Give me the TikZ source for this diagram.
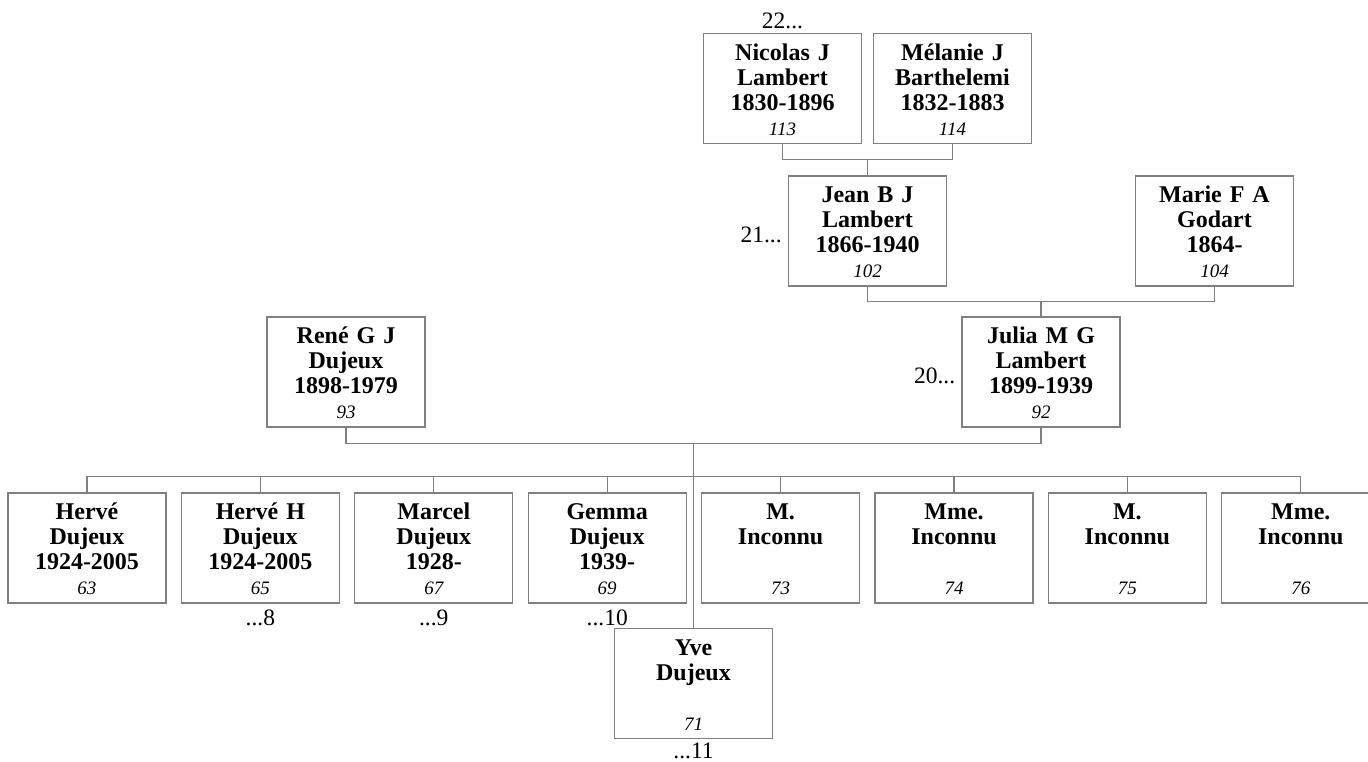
\documentclass[tikz,border=0pt]{standalone}
\usepackage{fontspec}
\setmainfont{Liberation Serif}
\usetikzlibrary{calc}
\definecolor{boxgray}{RGB}{128,128,128}
\newcommand{\pers}[4]{\rule{0pt}{25.5pt}#1\\\strut #2\\\strut #3\\{\fontsize{19}{25}\selectfont\itshape\mdseries\strut #4}}
\tikzset{
  pbox/.style={draw=boxgray, line width=1.2pt, minimum width=158pt, minimum height=110pt,
    inner sep=0pt, align=center, text width=156pt, font=\fontsize{24}{25}\selectfont\bfseries},
  conn/.style={draw=boxgray, line width=1.1pt},
  gen/.style={font=\fontsize{23.5}{25}\selectfont, inner sep=0pt},
}
\begin{document}
\begin{tikzpicture}[x=1pt,y=-1pt]
\path[use as bounding box] (0,0) rectangle (1368,761);
\clip (0,0) rectangle (1368,761);
% ancestors
\node[pbox] (p113) at (782.5,88.5) {\pers{Nicolas J}{Lambert}{1830-1896}{113}};
\node[pbox] (p114) at (952.5,88.5) {\pers{Mélanie J}{Barthelemi}{1832-1883}{114}};
\node[pbox] (p102) at (867.5,231) {\pers{Jean B J}{Lambert}{1866-1940}{102}};
\node[pbox] (p104) at (1214.5,231) {\pers{Marie F A}{Godart}{1864-}{104}};
\node[pbox] (p93) at (346,372) {\pers{René G J}{Dujeux}{1898-1979}{93}};
\node[pbox] (p92) at (1041,372) {\pers{Julia M G}{Lambert}{1899-1939}{92}};
% children
\node[pbox] (p63) at (87,548) {\pers{Hervé}{Dujeux}{1924-2005}{63}};
\node[pbox] (p65) at (260.4,548) {\pers{Hervé H}{Dujeux}{1924-2005}{65}};
\node[pbox] (p67) at (433.8,548) {\pers{Marcel}{Dujeux}{1928-}{67}};
\node[pbox] (p69) at (607.2,548) {\pers{Gemma}{Dujeux}{1939-}{69}};
\node[pbox] (p73) at (780.6,548) {\pers{M.}{Inconnu}{}{73}};
\node[pbox] (p74) at (954,548) {\pers{Mme.}{Inconnu}{}{74}};
\node[pbox] (p75) at (1127.4,548) {\pers{M.}{Inconnu}{}{75}};
\node[pbox] (p76) at (1300.8,548) {\pers{Mme.}{Inconnu}{}{76}};
\node[pbox] (p71) at (693.5,683.5) {\pers{Yve}{Dujeux}{}{71}};
% generation labels
\node[gen, anchor=base] (l22) at ([yshift=4pt]p113.north) {22...};
\node[gen, anchor=base east] (l21) at ([xshift=-6pt,yshift=-11pt]p102.west) {21...};
\node[gen, anchor=base east] (l20) at ([xshift=-6pt,yshift=-11pt]p92.west) {20...};
\node[gen, anchor=base] (l8) at ([yshift=-22pt]p65.south) {...8};
\node[gen, anchor=base] (l9) at ([yshift=-22pt]p67.south) {...9};
\node[gen, anchor=base] (l10) at ([yshift=-22pt]p69.south) {...10};
\node[gen, anchor=base] (l11) at ([yshift=-19pt]p71.south) {...11};
% connectors
\coordinate (j1) at ($(p113.south)+(0,15)$);
\draw[conn] (p113.south) -- (j1) -| (p114.south);
\draw[conn] (p102.north) -- (p102.north |- j1);
\coordinate (j2) at ($(p102.south)+(0,15)$);
\draw[conn] (p102.south) -- (j2) -| (p104.south);
\draw[conn] (p92.north) -- (p92.north |- j2);
\coordinate (j3) at ($(p93.south)+(0,16)$);
\draw[conn] (p93.south) -- (j3) -| (p92.south);
\draw[conn] (p71.north) -- (p71.north |- j3);
\coordinate (j4) at ($(p63.north)+(0,-16)$);
\draw[conn] (p63.north) -- (j4) -| (p76.north);
\foreach \c in {p65,p67,p69,p73,p74,p75}{
  \draw[conn] (\c.north) -- (\c.north |- j4);
}
\end{tikzpicture}
\end{document}
